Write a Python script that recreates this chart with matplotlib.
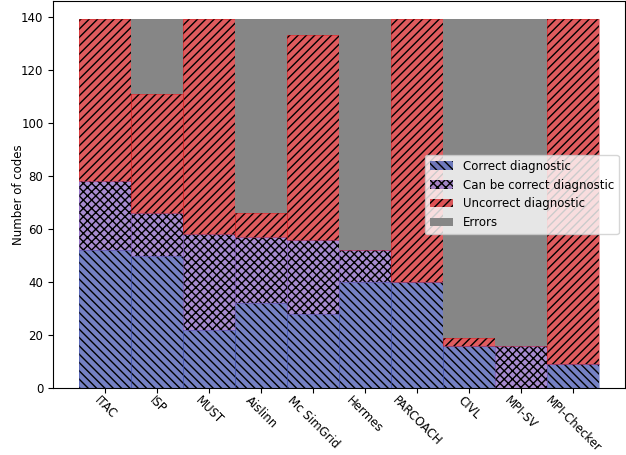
import numpy as np
import matplotlib
matplotlib.use("Agg")
import matplotlib.pyplot as plt

plt.rcParams["font.size"] = 8.5
plt.rcParams["hatch.color"] = "black"

# Values
tools = ["ITAC", "ISP", "MUST", "Aislinn", "Mc SimGrid", "Hermes",
         "PARCOACH", "CIVL", "MPI-SV", "MPI-Checker"]
correct = [52, 50, 22, 32, 28, 40, 40, 16, 0, 9]
can_be_correct = [26, 16, 36, 25, 28, 12, 0, 0, 16, 0]
uncorrect = [61, 45, 81, 9, 77, 0, 99, 3, 0, 130]
errors = [0, 28, 0, 73, 6, 87, 0, 120, 123, 0]

x = np.arange(len(tools))
c1 = np.array(correct)
c2 = c1 + np.array(can_be_correct)
c3 = c2 + np.array(uncorrect)

fig = plt.figure(figsize=(6.26, 4.55), dpi=100)
ax = fig.add_axes([0.085, 0.147, 0.913, 0.851])

layers = [
    (correct, 0, "#3a4cab", "\\\\\\\\", "Correct diagnostic"),
    (can_be_correct, c1, "#835bbc", "xxxx", "Can be correct diagnostic"),
    (uncorrect, c2, "#d3161a", "////", "Uncorrect diagnostic"),
]
for vals, bottom, col, hatch, name in layers:
    ax.bar(x, vals, width=1, bottom=bottom, color=col, alpha=0.7,
           hatch=hatch, label=name)
    # thin outline in the same colour, like the reference
    ax.bar(x, vals, width=1, bottom=bottom, fill=False, edgecolor=col,
           alpha=0.5, linewidth=0.6)
ax.bar(x, errors, width=1, bottom=c3, color="#868686", label="Errors")

ax.set_ylim(0, 146)
ax.set_xticks(x)
ax.set_xticklabels(tools, rotation=-45)
ax.tick_params(axis="x", pad=1)
ax.set_ylabel("Number of codes", labelpad=-3)
ax.legend(loc="center right")

fig.savefig("out.png", dpi=100)
